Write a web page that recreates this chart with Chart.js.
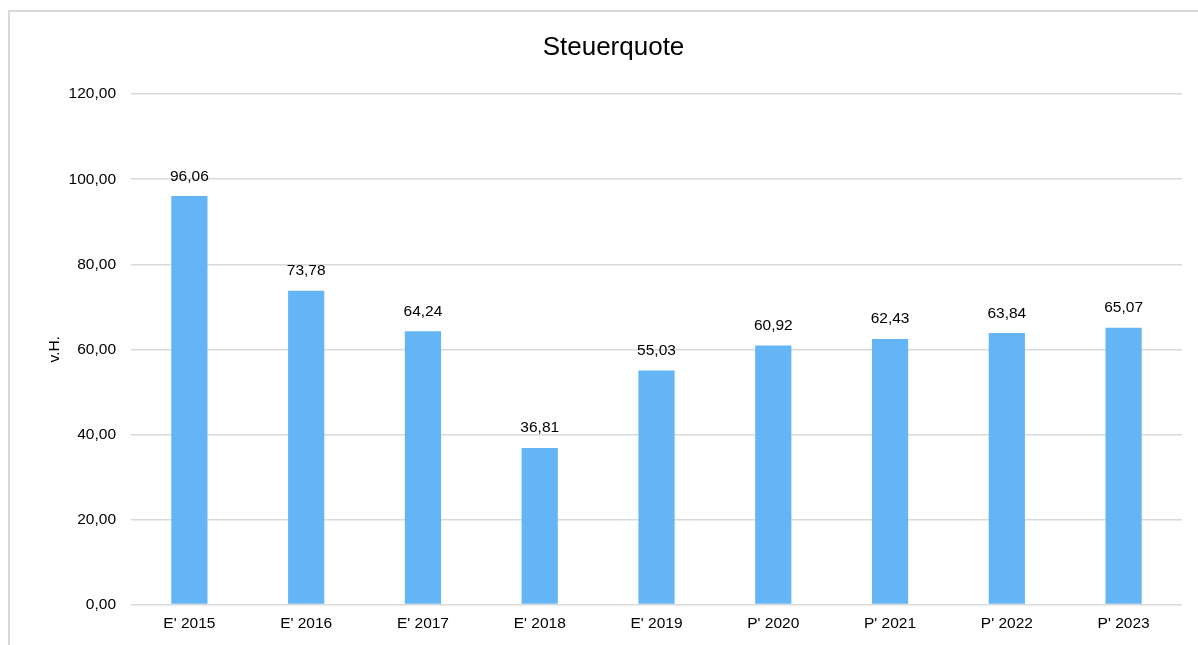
<!DOCTYPE html>
<html>
<head>
<meta charset="utf-8">
<script src="https://cdn.jsdelivr.net/npm/chart.js@4/dist/chart.umd.min.js"></script>
<style>
  html, body { margin: 0; padding: 0; background: #fff; }
  #frame {
    position: absolute; left: 8px; top: 10px; width: 1190px; height: 635px;
    border-left: 2px solid #d9d9d9; border-top: 2px solid #d9d9d9; box-sizing: border-box;
  }
  #wrap { position: absolute; left: 0; top: 0; width: 1198px; height: 645px; }
</style>
</head>
<body>
<div id="frame"></div>
<div id="wrap"><canvas id="myChart"></canvas></div>
<script>
// Steuerquote in v.H.
var jahre = ["E' 2015", "E' 2016", "E' 2017", "E' 2018", "E' 2019", "P' 2020", "P' 2021", "P' 2022", "P' 2023"];
var quote = [96.06, 73.78, 64.24, 36.81, 55.03, 60.92, 62.43, 63.84, 65.07];
var yTicks = [0, 20, 40, 60, 80, 100, 120];

function deZahl(v) {
	return v.toFixed(2).replace('.', ',');
}

// Werte über den Balken
var labelPlugin = {
	id: 'balkenWerte',
	afterDatasetsDraw: function(chart) {
		var ctx = chart.ctx;
		var meta = chart.getDatasetMeta(0);
		ctx.save();
		ctx.font = '15.5px "Liberation Sans", Arial, sans-serif';
		ctx.fillStyle = '#000';
		ctx.textAlign = 'center';
		ctx.textBaseline = 'bottom';
		meta.data.forEach(function(bar, i) {
			ctx.fillText(deZahl(quote[i]), bar.x, bar.y - 12);
		});
		ctx.restore();
	}
};

Chart.defaults.font.family = '"Liberation Sans", Arial, sans-serif';
Chart.defaults.color = '#000';

var ctx = document.getElementById("myChart");
var chart = new Chart(ctx, {
	type: 'bar',
	data: {
		labels: jahre,
		datasets: [{
			label: 'Steuerquote',
			data: quote,
			backgroundColor: '#64b5f6',
			categoryPercentage: 1,
			barPercentage: 0.31
		}]
	},
	options: {
		responsive: true,
		maintainAspectRatio: false,
		animation: false,
		layout: { padding: { left: 45, right: 16, top: 32, bottom: 10 } },
		plugins: {
			legend: { display: false },
			tooltip: { enabled: false },
			title: {
				display: true,
				text: 'Steuerquote',
				font: { size: 26, weight: 'normal' },
				color: '#000',
				padding: { top: 0, bottom: 31 }
			}
		},
		scales: {
			x: {
				grid: { display: false },
				border: { display: false },
				ticks: { font: { size: 15.5 }, color: '#000', padding: 2 }
			},
			y: {
				min: 0,
				max: 120,
				afterBuildTicks: function(axis) {
					axis.ticks = yTicks.map(function(v) { return { value: v }; });
				},
				grid: { color: '#d9d9d9', lineWidth: 1.5, drawTicks: true, tickLength: 13, tickColor: '#fff' },
				border: { display: false },
				ticks: {
					font: { size: 15.5 },
					color: '#000',
					padding: 2,
					callback: function(v) { return deZahl(v); }
				},
				title: {
					display: true,
					text: 'v.H.',
					font: { size: 15.5 },
					color: '#000',
					padding: { top: 0, bottom: 3 }
				}
			}
		}
	},
	plugins: [labelPlugin]
});
</script>
</body>
</html>
